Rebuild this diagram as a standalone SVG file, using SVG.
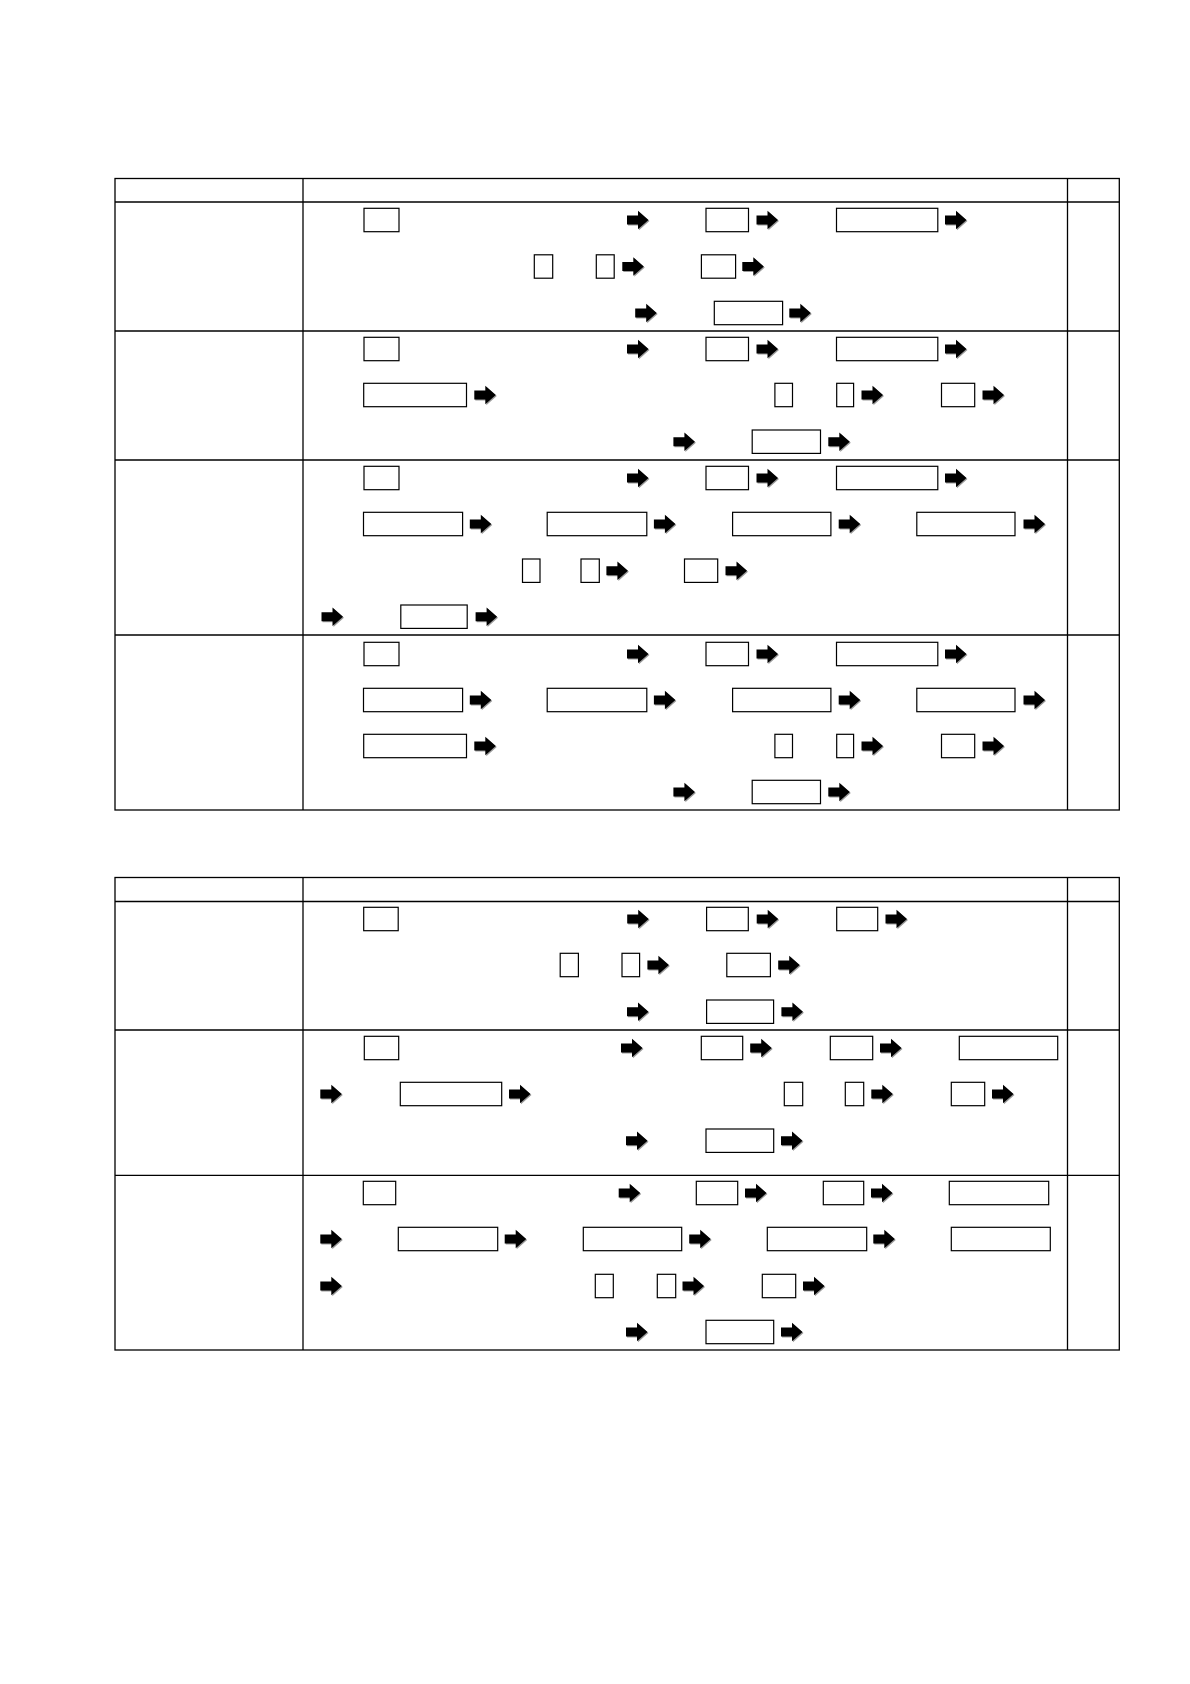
<svg xmlns="http://www.w3.org/2000/svg" width="1190" height="1684" viewBox="0 0 1190 1684">
<style>
.t{stroke:#000;stroke-width:1.3;fill:none}
.b{stroke:#000;stroke-width:1.2;fill:#fff}
</style>
<defs>
<g id="a"><path d="M1,-3.5 H12 V-8.3 L22.5,1 L12,10.3 V5.5 H1 Z" fill="#9a9a9a"/><path d="M0,-4.5 H11 V-9.3 L21.5,0 L11,9.3 V4.5 H0 Z" fill="#000"/></g>
</defs>
<rect width="1190" height="1684" fill="#fff"/>
<g id="tables">
<rect class="t" x="115" y="178.5" width="1004.3" height="631.5"/>
<line class="t" x1="303" y1="178.5" x2="303" y2="810"/>
<line class="t" x1="1067.5" y1="178.5" x2="1067.5" y2="810"/>
<line class="t" x1="115" y1="202" x2="1119.3" y2="202"/>
<line class="t" x1="115" y1="331" x2="1119.3" y2="331"/>
<line class="t" x1="115" y1="460" x2="1119.3" y2="460"/>
<line class="t" x1="115" y1="635" x2="1119.3" y2="635"/>
<rect class="t" x="115" y="877.5" width="1004.3" height="472.5"/>
<line class="t" x1="303" y1="877.5" x2="303" y2="1350"/>
<line class="t" x1="1067.5" y1="877.5" x2="1067.5" y2="1350"/>
<line class="t" x1="115" y1="901.5" x2="1119.3" y2="901.5"/>
<line class="t" x1="115" y1="1030" x2="1119.3" y2="1030"/>
<line class="t" x1="115" y1="1175.3" x2="1119.3" y2="1175.3"/>
</g>
<g id="nodes">
<!-- Cell A -->
<g id="a1"><rect class="b" x="364" y="208.3" width="35" height="23.4"/></g>
<g id="a2"><rect class="b" x="706" y="208.3" width="42.5" height="23.4"/></g>
<g id="a3"><rect class="b" x="836.5" y="208.3" width="101.3" height="23.4"/></g>
<g id="a4"><rect class="b" x="534.3" y="254.8" width="18.4" height="23.4"/></g>
<g id="a5"><rect class="b" x="596.3" y="254.8" width="17.9" height="23.4"/></g>
<g id="a6"><rect class="b" x="701.4" y="254.8" width="34.2" height="23.4"/></g>
<g id="a7"><rect class="b" x="714.3" y="301.3" width="68.3" height="23.4"/></g>
<!-- Cell B -->
<g id="b1"><rect class="b" x="364" y="337.3" width="35" height="23.4"/></g>
<g id="b2"><rect class="b" x="706" y="337.3" width="42.5" height="23.4"/></g>
<g id="b3"><rect class="b" x="836.5" y="337.3" width="101.3" height="23.4"/></g>
<g id="b4"><rect class="b" x="363.7" y="383.3" width="102.8" height="23.4"/></g>
<g id="b5"><rect class="b" x="774.9" y="383.3" width="17.6" height="23.4"/></g>
<g id="b6"><rect class="b" x="836.7" y="383.3" width="16.9" height="23.4"/></g>
<g id="b7"><rect class="b" x="941.5" y="383.3" width="33.2" height="23.4"/></g>
<g id="b8"><rect class="b" x="752.2" y="430" width="68.3" height="23.4"/></g>
<!-- Cell C -->
<g id="c1"><rect class="b" x="364" y="466.3" width="35" height="23.4"/></g>
<g id="c2"><rect class="b" x="706" y="466.3" width="42.5" height="23.4"/></g>
<g id="c3"><rect class="b" x="836.5" y="466.3" width="101.3" height="23.4"/></g>
<g id="c4"><rect class="b" x="363.5" y="512.3" width="99.1" height="23.4"/></g>
<g id="c5"><rect class="b" x="547.2" y="512.3" width="99.6" height="23.4"/></g>
<g id="c6"><rect class="b" x="732.6" y="512.3" width="98.3" height="23.4"/></g>
<g id="c7"><rect class="b" x="916.8" y="512.3" width="98.2" height="23.4"/></g>
<g id="c8"><rect class="b" x="522.5" y="559" width="17.5" height="23.4"/></g>
<g id="c9"><rect class="b" x="581" y="559" width="18.3" height="23.4"/></g>
<g id="c10"><rect class="b" x="684.5" y="559" width="33.2" height="23.4"/></g>
<g id="c11"><rect class="b" x="400.8" y="605" width="66.4" height="23.4"/></g>
<!-- Cell D -->
<g id="d1"><rect class="b" x="364" y="642.3" width="35" height="23.4"/></g>
<g id="d2"><rect class="b" x="706" y="642.3" width="42.5" height="23.4"/></g>
<g id="d3"><rect class="b" x="836.5" y="642.3" width="101.3" height="23.4"/></g>
<g id="d4"><rect class="b" x="363.5" y="688.3" width="99.1" height="23.4"/></g>
<g id="d5"><rect class="b" x="547.2" y="688.3" width="99.6" height="23.4"/></g>
<g id="d6"><rect class="b" x="732.6" y="688.3" width="98.3" height="23.4"/></g>
<g id="d7"><rect class="b" x="916.8" y="688.3" width="98.2" height="23.4"/></g>
<g id="d8"><rect class="b" x="363.7" y="734.3" width="102.8" height="23.4"/></g>
<g id="d9"><rect class="b" x="774.9" y="734.3" width="17.6" height="23.4"/></g>
<g id="d10"><rect class="b" x="836.7" y="734.3" width="16.9" height="23.4"/></g>
<g id="d11"><rect class="b" x="941.5" y="734.3" width="33.2" height="23.4"/></g>
<g id="d12"><rect class="b" x="752.2" y="780.3" width="68.3" height="23.4"/></g>
<!-- Cell E -->
<g id="e1"><rect class="b" x="363.7" y="907.3" width="34.5" height="23.4"/></g>
<g id="e2"><rect class="b" x="706.6" y="907.3" width="41.7" height="23.4"/></g>
<g id="e3"><rect class="b" x="836.7" y="907.3" width="41" height="23.4"/></g>
<g id="e4"><rect class="b" x="560.2" y="953.3" width="18.2" height="23.4"/></g>
<g id="e5"><rect class="b" x="622" y="953.3" width="17.6" height="23.4"/></g>
<g id="e6"><rect class="b" x="726.8" y="953.3" width="43.6" height="23.4"/></g>
<g id="e7"><rect class="b" x="706.6" y="1000" width="67" height="23.4"/></g>
<!-- Cell F -->
<g id="f1"><rect class="b" x="364.3" y="1036.3" width="34.4" height="23.4"/></g>
<g id="f2"><rect class="b" x="701.3" y="1036.3" width="41.4" height="23.4"/></g>
<g id="f3"><rect class="b" x="830.3" y="1036.3" width="42.4" height="23.4"/></g>
<g id="f4"><rect class="b" x="959.3" y="1036.3" width="98.4" height="23.4"/></g>
<g id="f5"><rect class="b" x="400.3" y="1082.3" width="101.4" height="23.4"/></g>
<g id="f6"><rect class="b" x="784.3" y="1082.3" width="18.4" height="23.4"/></g>
<g id="f7"><rect class="b" x="845.3" y="1082.3" width="18.4" height="23.4"/></g>
<g id="f8"><rect class="b" x="951.3" y="1082.3" width="33.4" height="23.4"/></g>
<g id="f9"><rect class="b" x="706" y="1129" width="67.7" height="23.4"/></g>
<!-- Cell G -->
<g id="g1"><rect class="b" x="363.3" y="1181.3" width="32.4" height="23.4"/></g>
<g id="g2"><rect class="b" x="696.3" y="1181.3" width="41.4" height="23.4"/></g>
<g id="g3"><rect class="b" x="823.3" y="1181.3" width="40.4" height="23.4"/></g>
<g id="g4"><rect class="b" x="949.3" y="1181.3" width="99.4" height="23.4"/></g>
<g id="g5"><rect class="b" x="398.3" y="1227.3" width="99.4" height="23.4"/></g>
<g id="g6"><rect class="b" x="583.3" y="1227.3" width="98.4" height="23.4"/></g>
<g id="g7"><rect class="b" x="767.3" y="1227.3" width="99.4" height="23.4"/></g>
<g id="g8"><rect class="b" x="951.3" y="1227.3" width="99" height="23.4"/></g>
<g id="g9"><rect class="b" x="595.3" y="1274.3" width="18" height="23.4"/></g>
<g id="g10"><rect class="b" x="657.3" y="1274.3" width="18.4" height="23.4"/></g>
<g id="g11"><rect class="b" x="762.3" y="1274.3" width="33.4" height="23.4"/></g>
<g id="g12"><rect class="b" x="706" y="1320.3" width="67.7" height="23.4"/></g>
</g>
<g id="connectors">
<!-- A -->
<use href="#a" x="627" y="220"/><use href="#a" x="756.5" y="220"/><use href="#a" x="945" y="220"/>
<use href="#a" x="622.3" y="266.5"/><use href="#a" x="742.3" y="266.5"/>
<use href="#a" x="635.2" y="313"/><use href="#a" x="789.3" y="313"/>
<!-- B -->
<use href="#a" x="627" y="349"/><use href="#a" x="756.5" y="349"/><use href="#a" x="945" y="349"/>
<use href="#a" x="474.3" y="395"/><use href="#a" x="861.5" y="395"/><use href="#a" x="982.5" y="395"/>
<use href="#a" x="673.4" y="441.7"/><use href="#a" x="828.3" y="441.7"/>
<!-- C -->
<use href="#a" x="627" y="478"/><use href="#a" x="756.5" y="478"/><use href="#a" x="945" y="478"/>
<use href="#a" x="469.8" y="524"/><use href="#a" x="653.9" y="524"/><use href="#a" x="838.7" y="524"/><use href="#a" x="1023.5" y="524"/>
<use href="#a" x="606.4" y="570.7"/><use href="#a" x="725.5" y="570.7"/>
<use href="#a" x="321.5" y="616.7"/><use href="#a" x="475.6" y="616.7"/>
<!-- D -->
<use href="#a" x="627" y="654"/><use href="#a" x="756.5" y="654"/><use href="#a" x="945" y="654"/>
<use href="#a" x="469.8" y="700"/><use href="#a" x="653.9" y="700"/><use href="#a" x="838.7" y="700"/><use href="#a" x="1023.5" y="700"/>
<use href="#a" x="474.3" y="746"/><use href="#a" x="861.5" y="746"/><use href="#a" x="982.5" y="746"/>
<use href="#a" x="673.4" y="792"/><use href="#a" x="828.3" y="792"/>
<!-- E -->
<use href="#a" x="627.2" y="919"/><use href="#a" x="756.7" y="919"/><use href="#a" x="885.5" y="919"/>
<use href="#a" x="647.4" y="965"/><use href="#a" x="778.2" y="965"/>
<use href="#a" x="627" y="1011.7"/><use href="#a" x="781.4" y="1011.7"/>
<!-- F -->
<use href="#a" x="621" y="1048"/><use href="#a" x="750.2" y="1048"/><use href="#a" x="880" y="1048"/>
<use href="#a" x="320.3" y="1094"/><use href="#a" x="509" y="1094"/><use href="#a" x="871.3" y="1094"/><use href="#a" x="992" y="1094"/>
<use href="#a" x="626" y="1140.7"/><use href="#a" x="781" y="1140.7"/>
<!-- G -->
<use href="#a" x="618.7" y="1193"/><use href="#a" x="745" y="1193"/><use href="#a" x="871" y="1193"/>
<use href="#a" x="320.3" y="1239"/><use href="#a" x="504.7" y="1239"/><use href="#a" x="689.2" y="1239"/><use href="#a" x="873.3" y="1239"/>
<use href="#a" x="320.3" y="1286"/><use href="#a" x="682.5" y="1286"/><use href="#a" x="803" y="1286"/>
<use href="#a" x="626" y="1332"/><use href="#a" x="781" y="1332"/>
</g>
</svg>
